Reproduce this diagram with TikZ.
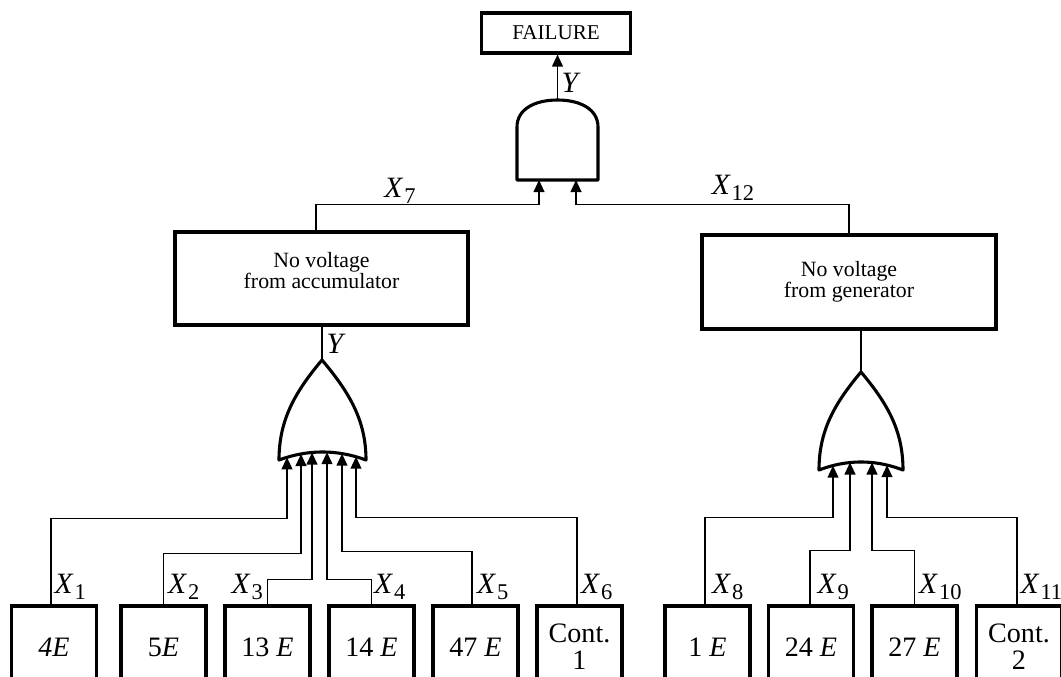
\documentclass[tikz,border=0pt]{standalone}
\usepackage{fontspec}
\setmainfont{Liberation Serif}
\usetikzlibrary{arrows.meta}
\newcommand{\xsub}[1]{\textit{X}\kern0.6pt\raisebox{-4.5pt}{\fontsize{16}{16}\selectfont #1}}
\tikzset{
  event/.style={draw, line width=2.2pt, align=center, inner sep=0pt},
  basic/.style={event, minimum width=2.125cm, minimum height=2.05cm, font=\fontsize{20}{19}\selectfont},
  wire/.style={line width=1.1pt},
  gate/.style={line width=2.2pt, line join=round},
  sig/.style={font=\fontsize{21}{21}\selectfont, inner sep=1pt},
}
\begin{document}
\begin{tikzpicture}[x=0.025cm, y=-0.025cm, >={Triangle[length=3mm, width=2.7mm]}]
    \useasboundingbox (0,0) rectangle (1061,677);

    % Top event and AND gate
    \node[event, minimum width=3.725cm, minimum height=1cm, font=\fontsize{15}{15}\selectfont] (fail) at (556,33) {FAILURE};
    \draw[gate] (517,180) -- (517,127) .. controls (517,109) and (535,100) .. (557.5,100)
        .. controls (580,100) and (598,109) .. (598,127) -- (598,180) -- cycle;
    \coordinate (andout) at (557.5,100);
    \coordinate (andin1) at (539,180);
    \coordinate (andin2) at (576,180);
    \draw[wire,->] (andout) -- (andout |- fail.south);
    \node[sig, anchor=west] (ytop) at (560,83) {\textit{Y}};

    % Intermediate events
    \node[event, minimum width=7.325cm, minimum height=2.325cm, font=\fontsize{15.5}{15}\selectfont] (acc) at (321.5,278.5) {No voltage\\from accumulator\\[-3pt]\mbox{}};
    \node[event, minimum width=7.35cm, minimum height=2.35cm, font=\fontsize{15.5}{15}\selectfont] (gen) at (849,282) {No voltage\\from generator};
    \draw[wire,->] ([xshift=-0.14cm]acc.north) -- ++(0,-26) -| (andin1);
    \draw[wire,->] (gen.north) -- ++(0,-29) -| (andin2);
    \node[sig] (x7) at (400,191) {\xsub{7}};
    \node[sig] (x12) at (733,188) {\xsub{12}};

    % OR gate, accumulator side
    \draw[gate] (322,360) .. controls (295,392) and (279,420) .. (279,460)
        .. controls (308,449.3) and (337,449.3) .. (366,460)
        .. controls (366,420) and (349,392) .. (322,360) -- cycle;
    \coordinate (or1out) at (322,360);
    \coordinate (o1a) at (287,457.3);
    \coordinate (o1b) at (301,454);
    \coordinate (o1c) at (312,452.5);
    \coordinate (o1d) at (327,452.1);
    \coordinate (o1e) at (342,453.6);
    \coordinate (o1f) at (356,456.7);
    \draw[wire] (or1out) -- (or1out |- acc.south);
    \node[sig, anchor=west] (ylow) at (325,344) {\textit{Y}};

    % OR gate, generator side
    \draw[gate] (861,372) .. controls (835,403) and (819,430) .. (819,470)
        .. controls (847,459.3) and (875,459.3) .. (903,470)
        .. controls (903,430) and (887,403) .. (861,372) -- cycle;
    \coordinate (or2out) at (861,372);
    \coordinate (o2a) at (833,465.6);
    \coordinate (o2b) at (850,462.5);
    \coordinate (o2c) at (872,462.5);
    \coordinate (o2d) at (887,465.1);
    \draw[wire] (or2out) -- (or2out |- gen.south);

    % Basic events
    \node[basic] (e4) at (54,647) {\textit{4E}};
    \node[basic] (e5) at (163.5,647) {5\textit{E}};
    \node[basic] (e13) at (267.5,647) {13 \textit{E}};
    \node[basic] (e14) at (371.5,647) {14 \textit{E}};
    \node[basic] (e47) at (475.5,647) {47 \textit{E}};
    \node[basic] (c1) at (579.5,647) {Cont.\\1};
    \node[basic] (e1) at (707.5,647) {1 \textit{E}};
    \node[basic] (e24) at (811,647) {24 \textit{E}};
    \node[basic] (e27) at (914.5,647) {27 \textit{E}};
    \node[basic] (c2) at (1019,647) {Cont.\\2};

    % Inputs of the left OR gate
    \draw[wire,->] ([xshift=-0.075cm]e4.north) -- ++(0,-86) -| (o1a);
    \draw[wire,->] (e5.north) -- ++(0,-51) -| (o1b);
    \draw[wire,->] (e13.north) -- ++(0,-25) -| (o1c);
    \draw[wire,->] (e14.north) -- ++(0,-25) -| (o1d);
    \draw[wire,->] ([xshift=-0.09cm]e47.north) -- ++(0,-53) -| (o1e);
    \draw[wire,->] ([xshift=-0.06cm]c1.north) -- ++(0,-87) -| (o1f);

    % Inputs of the right OR gate
    \draw[wire,->] ([xshift=-0.06cm]e1.north) -- ++(0,-87) -| (o2a);
    \draw[wire,->] ([xshift=-0.025cm]e24.north) -- ++(0,-54) -| (o2b);
    \draw[wire,->] (e27.north) -- ++(0,-54) -| (o2c);
    \draw[wire,->] ([xshift=-0.05cm]c2.north) -- ++(0,-87) -| (o2d);

    % Signal labels
    \node[sig, anchor=south west] (x1) at ([shift={(-1,-3)}]e4.north) {\xsub{1}};
    \node[sig, anchor=south west] (x2) at ([shift={(3,-3)}]e5.north) {\xsub{2}};
    \node[sig, anchor=south east] (x3) at ([shift={(-3,-3)}]e13.north) {\xsub{3}};
    \node[sig, anchor=south west] (x4) at ([shift={(1,-3)}]e14.north) {\xsub{4}};
    \node[sig, anchor=south west] (x5) at ([shift={(0,-3)}]e47.north) {\xsub{5}};
    \node[sig, anchor=south west] (x6) at ([shift={(0,-3)}]c1.north) {\xsub{6}};
    \node[sig, anchor=south west] (x8) at ([shift={(3,-3)}]e1.north) {\xsub{8}};
    \node[sig, anchor=south west] (x9) at ([shift={(5,-3)}]e24.north) {\xsub{9}};
    \node[sig, anchor=south west] (x10) at ([shift={(3,-3)}]e27.north) {\xsub{10}};
    \node[sig, anchor=south west] (x11) at ([shift={(0,-3)}]c2.north) {\xsub{11}};
\end{tikzpicture}
\end{document}
